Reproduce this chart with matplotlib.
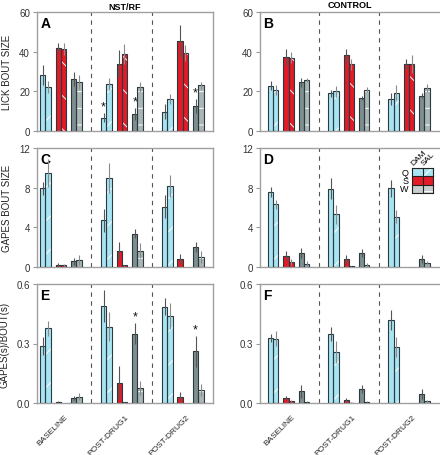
import matplotlib
matplotlib.use("Agg")
import matplotlib.pyplot as plt
from matplotlib.patches import Rectangle

# groups on the x axis
groups = ["BASELINE", "POST-DRUG1", "POST-DRUG2"]
# order of bars in each group: Q DAM, Q SAL, S DAM, S SAL, W DAM, W SAL

# A - lick bout size, NST/RF
A_mean = [[28.3, 22.4, 42.0, 41.5, 26.3, 24.7],
          [6.8, 23.8, 34.0, 38.8, 8.5, 22.3],
          [9.8, 16.2, 45.3, 39.3, 12.8, 23.0]]
A_err = [[5.0, 3.0, 2.2, 3.0, 3.7, 3.6],
         [2.5, 3.0, 6.7, 5.0, 3.0, 2.5],
         [4.0, 2.6, 8.2, 4.0, 3.5, 1.8]]
# B - lick bout size, control
B_mean = [[22.8, 20.7, 37.5, 37.0, 24.5, 25.7],
          [19.0, 20.0, 38.2, 33.7, 16.7, 20.8],
          [16.2, 19.3, 33.8, 33.8, 17.8, 21.5]]
B_err = [[2.2, 2.7, 4.0, 2.7, 2.3, 1.2],
         [1.7, 2.8, 3.3, 2.8, 1.1, 1.2],
         [3.0, 3.7, 2.7, 4.4, 1.4, 2.0]]
# C - gapes bout size, NST/RF
C_mean = [[7.95, 9.5, 0.22, 0.18, 0.57, 0.67],
          [4.7, 8.95, 1.65, 0.2, 3.37, 1.65],
          [6.1, 8.2, 0.8, 0.0, 2.0, 0.98]]
C_err = [[0.65, 1.4, 0.22, 0.1, 0.33, 0.5],
         [1.15, 1.5, 0.85, 0.05, 0.47, 0.75],
         [1.2, 1.1, 0.48, 0.0, 0.5, 0.6]]
# D - gapes bout size, control
D_mean = [[7.55, 6.33, 1.15, 0.47, 1.38, 0.27],
          [7.9, 5.32, 0.78, 0.07, 1.38, 0.24],
          [7.95, 5.08, 0.0, 0.0, 0.78, 0.4]]
D_err = [[0.5, 0.44, 0.45, 0.3, 0.5, 0.3],
         [1.05, 0.94, 0.42, 0.03, 0.42, 0.13],
         [0.85, 0.64, 0.0, 0.0, 0.42, 0.2]]
# E - gapes/bout, NST/RF
E_mean = [[0.288, 0.376, 0.005, 0.0, 0.025, 0.032],
          [0.49, 0.384, 0.103, 0.004, 0.349, 0.076],
          [0.486, 0.44, 0.032, 0.0, 0.261, 0.066]]
E_err = [[0.045, 0.039, 0.003, 0.0, 0.01, 0.018],
         [0.08, 0.073, 0.084, 0.002, 0.052, 0.035],
         [0.042, 0.066, 0.024, 0.0, 0.078, 0.032]]
# F - gapes/bout, control
F_mean = [[0.329, 0.324, 0.025, 0.01, 0.059, 0.007],
          [0.349, 0.258, 0.015, 0.002, 0.071, 0.007],
          [0.418, 0.283, 0.0, 0.0, 0.044, 0.01]]
F_err = [[0.02, 0.039, 0.01, 0.005, 0.032, 0.004],
         [0.036, 0.056, 0.01, 0.002, 0.022, 0.004],
         [0.052, 0.051, 0.0, 0.0, 0.025, 0.005]]

# significance stars: panel -> list of (group, bar)
stars = {"A": [(1, 0), (1, 4), (2, 4)], "E": [(1, 4), (2, 4)]}

face = ["#a8e4f2", "#a8e4f2", "#e31b26", "#e31b26", "#7f8e8e", "#aab5b5"]
hatches = [None, "/", None, "\\", None, "-"]
edge = "#2a3a40"

plt.rcParams["font.family"] = ["Liberation Sans", "DejaVu Sans"]
plt.rcParams["hatch.linewidth"] = 0.7

W, H = 440, 456
fig = plt.figure(figsize=(W / 100, H / 100), dpi=100)


def px_axes(x0, y0, x1, y1):
    return fig.add_axes([x0 / W, 1 - y1 / H, (x1 - x0) / W, (y1 - y0) / H])


def bar_x(g, b):
    return 0.57 + g * 11.5 + (b // 2) * 2.93 + (b % 2) * 1.0


def draw_panel(ax, mean, err, letter, ylim, yticks, ylabels, xlim):
    for g in range(3):
        for b in range(6):
            x = bar_x(g, b)
            h = mean[g][b]
            if h > 0:
                ax.bar(x, h, width=1.0, align="edge", color=face[b], linewidth=0, zorder=2)
                if hatches[b]:
                    ax.bar(x, h, width=1.0, align="edge", color="none", edgecolor="white",
                           hatch=hatches[b], linewidth=0, zorder=3)
                ax.bar(x, h, width=1.0, align="edge", color="none", edgecolor=edge,
                       linewidth=0.8, zorder=4)
            if err[g][b] > 0:
                ax.errorbar(x + 0.5, h, yerr=err[g][b], fmt="none",
                            ecolor="#555555" if b % 2 == 0 else "#8a8a8a",
                            elinewidth=0.8, capsize=0, zorder=5)
    for g, b in stars.get(letter, []):
        top = mean[g][b] + err[g][b]
        ax.text(bar_x(g, b) + 0.5, top + (ylim[1] - ylim[0]) * 0.005, "*",
                ha="center", va="bottom", fontsize=9, color="#111111")
    for xd in (10.25, 21.75):
        ax.axvline(xd, color="#555555", lw=0.8, ls=(0, (4, 4)), zorder=1)
    ax.set_xlim(*xlim)
    ax.set_ylim(*ylim)
    ax.set_yticks(yticks)
    ax.set_yticklabels(ylabels)
    ax.tick_params(axis="y", direction="out", length=3, width=0.8, color="#999999",
                   labelsize=7, labelcolor="#333333", pad=2)
    for s in ax.spines.values():
        s.set_color("#a0a0a0")
        s.set_linewidth(1.0)
    ax.text(0.02, 0.97, letter, transform=ax.transAxes, ha="left", va="top",
            fontsize=10, fontweight="bold")


rows = [(13, 132), (149, 268), (285, 404)]
left_cols = (37, 213)
right_cols = (260, 441)
panels = [("A", A_mean, A_err), ("B", B_mean, B_err),
          ("C", C_mean, C_err), ("D", D_mean, D_err),
          ("E", E_mean, E_err), ("F", F_mean, F_err)]
yinfo = [((0, 60), [0, 20, 40, 60], ["0", "20", "40", "60"]),
         ((0, 12), [0, 4, 8, 12], ["0", "4", "8", "12"]),
         ((0, 0.6), [0, 0.3, 0.6], ["0.0", "0.3", "0.6"])]
ylabel_txt = ["LICK BOUT SIZE", "GAPES BOUT SIZE", "GAPES(s)/BOUT(s)"]

axes = {}
for i, (letter, mean, err) in enumerate(panels):
    r, c = i // 2, i % 2
    y0, y1 = rows[r]
    x0, x1 = left_cols if c == 0 else right_cols
    ax = px_axes(x0, y0, x1, y1)
    xlim = (0, 33.2) if c == 0 else (-0.95, 33.6)
    ylim, yt, yl = yinfo[r]
    draw_panel(ax, mean, err, letter, ylim, yt, yl, xlim)
    if c == 0:
        ax.set_ylabel(ylabel_txt[r], fontsize=7, color="#222222", labelpad=5)
    if r == 2:
        centers = [bar_x(g, 2) + 1.6 for g in range(3)]
        ax.set_xticks(centers)
        ax.set_xticklabels(groups, rotation=45, ha="right", va="top",
                           rotation_mode="anchor", fontsize=6, color="#222222")
        ax.tick_params(axis="x", length=0, pad=7)
    else:
        ax.set_xticks([])
    axes[letter] = ax

axes["A"].set_title("NST/RF", fontsize=6.5, fontweight="bold", pad=2)
axes["B"].text((350 - 260) / 181, 1.0 + 3 / 119, "CONTROL", transform=axes["B"].transAxes,
               ha="center", va="bottom", fontsize=6.5, fontweight="bold")

# legend grid in panel D
leg = px_axes(412, 169, 433, 194)
leg.set_xlim(0, 2)
leg.set_ylim(0, 3)
leg.axis("off")
leg_face = ["#a8e4f2", "#e31b26", "#c8cdcd"]
leg_hatch = ["/", "\\", "-"]
for k, lab in enumerate(["Q", "S", "W"]):
    yb = 2 - k
    leg.add_patch(Rectangle((0, yb), 1, 1, facecolor=leg_face[k], edgecolor="none"))
    leg.add_patch(Rectangle((1, yb), 1, 1, facecolor=leg_face[k], edgecolor="none"))
    leg.add_patch(Rectangle((1, yb), 1, 1, facecolor="none", edgecolor="white",
                            hatch=leg_hatch[k], linewidth=0))
    leg.text(-0.35, yb + 0.5, lab, ha="right", va="center", fontsize=6.5, clip_on=False)
for xx in (0, 1, 2):
    leg.plot([xx, xx], [0, 3], color="#222222", lw=0.8, clip_on=False)
for yy in (0, 1, 2, 3):
    leg.plot([0, 2], [yy, yy], color="#222222", lw=0.8, clip_on=False)
leg.text(0.25, 3.15, "DAM", rotation=45, ha="left", va="bottom", fontsize=6,
         rotation_mode="anchor", clip_on=False)
leg.text(1.25, 3.15, "SAL", rotation=45, ha="left", va="bottom", fontsize=6,
         rotation_mode="anchor", clip_on=False)

fig.savefig("out.png", dpi=100)
